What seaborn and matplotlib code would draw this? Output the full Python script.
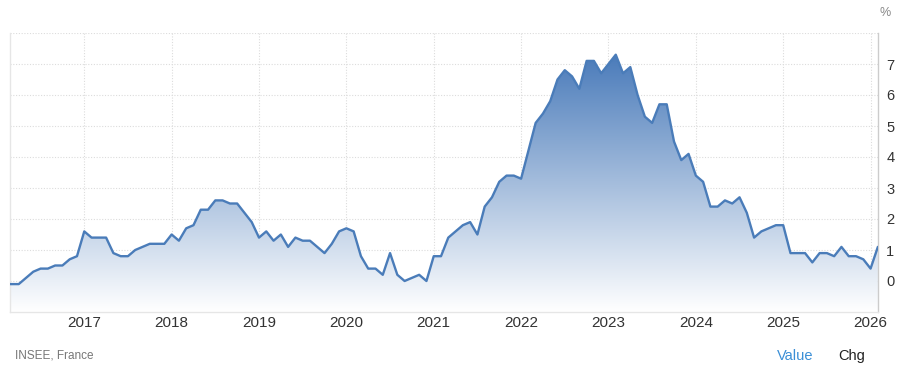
import numpy as np
import pandas as pd
import matplotlib
matplotlib.use("Agg")
import matplotlib.pyplot as plt
import seaborn as sns

# ---- data (France HICP, YoY %, monthly from Feb 2016) ----
start_month = "2016-02"
values_2016 = [-0.1, -0.1, -0.1, 0.1, 0.3, 0.4, 0.4, 0.5, 0.5, 0.7, 0.8]
values_2017 = [1.6, 1.4, 1.4, 1.4, 0.9, 0.8, 0.8, 1.0, 1.1, 1.2, 1.2, 1.2]
values_2018 = [1.5, 1.3, 1.7, 1.8, 2.3, 2.3, 2.6, 2.6, 2.5, 2.5, 2.2, 1.9]
values_2019 = [1.4, 1.6, 1.3, 1.5, 1.1, 1.4, 1.3, 1.3, 1.1, 0.9, 1.2, 1.6]
values_2020 = [1.7, 1.6, 0.8, 0.4, 0.4, 0.2, 0.9, 0.2, 0.0, 0.1, 0.2, 0.0]
values_2021 = [0.8, 0.8, 1.4, 1.6, 1.8, 1.9, 1.5, 2.4, 2.7, 3.2, 3.4, 3.4]
values_2022 = [3.3, 4.2, 5.1, 5.4, 5.8, 6.5, 6.8, 6.6, 6.2, 7.1, 7.1, 6.7]
values_2023 = [7.0, 7.3, 6.7, 6.9, 6.0, 5.3, 5.1, 5.7, 5.7, 4.5, 3.9, 4.1]
values_2024 = [3.4, 3.2, 2.4, 2.4, 2.6, 2.5, 2.7, 2.2, 1.4, 1.6, 1.7, 1.8]
values_2025 = [1.8, 0.9, 0.9, 0.9, 0.6, 0.9, 0.9, 0.8, 1.1, 0.8, 0.8, 0.7]
values_2026 = [0.4, 1.1]

year_ticks = [2017, 2018, 2019, 2020, 2021, 2022, 2023, 2024, 2025, 2026]
y_ticks = [0, 1, 2, 3, 4, 5, 6, 7]
source_text = "INSEE, France"

values = (values_2016 + values_2017 + values_2018 + values_2019 + values_2020 +
          values_2021 + values_2022 + values_2023 + values_2024 + values_2025 + values_2026)
dates = pd.date_range(start_month, periods=len(values), freq="MS")
df = pd.DataFrame({"x": dates.year + (dates.month - 1) / 12.0, "value": values})

# ---- style ----
sns.set_theme(style="white")
plt.rcParams["font.family"] = ["Liberation Sans", "DejaVu Sans"]

fig = plt.figure(figsize=(9.0, 3.72), dpi=100)
ax = fig.add_axes([10 / 900, 1 - 312 / 372, 868 / 900, 279 / 372])

line_color = "#4a7cb9"
top_rgb = np.array([74, 123, 186]) / 255.0

xmin, xmax = 2016.15, 2026.085
ymin, ymax = -1.0, 8.0

# gradient fill clipped to the area under the line
poly = ax.fill_between(df["x"], df["value"], ymin, color="none", lw=0)
ytop = max(values)
n = 256
grad = np.zeros((n, 1, 4))
frac = np.linspace(0, 1, n)[:, None]  # 0 top -> 1 bottom
grad[:, 0, :3] = top_rgb * (1 - frac) + np.array([1, 1, 1]) * frac
grad[:, 0, 3] = 1.0
im = ax.imshow(grad, extent=[xmin, xmax, ymin, ytop], aspect="auto",
               origin="upper", zorder=1)
path = poly.get_paths()[0]
im.set_clip_path(path, transform=ax.transData)

sns.lineplot(data=df, x="x", y="value", ax=ax, color=line_color, lw=1.7,
             zorder=3, solid_joinstyle="round", solid_capstyle="round")

ax.set_xlim(xmin, xmax)
ax.set_ylim(ymin, ymax)

# grid
for yv in range(0, 9):
    ax.axhline(yv, color="#dcdcdc", lw=0.8, ls=(0, (1, 1.5)), zorder=0)
for xv in year_ticks:
    ax.axvline(xv, color="#dcdcdc", lw=0.8, ls=(0, (1, 1.5)), zorder=0)

ax.set_xticks(year_ticks)
ax.set_xticklabels([str(y) for y in year_ticks])
ax.set_yticks(y_ticks)
ax.set_yticklabels([str(v) for v in y_ticks])
ax.yaxis.tick_right()
ax.tick_params(axis="y", length=0, pad=6, labelsize=10.5, labelcolor="#333333")
ax.tick_params(axis="x", length=0, pad=3, labelsize=11, labelcolor="#333333")
ax.set_xlabel("")
ax.set_ylabel("")

ax.spines["top"].set_visible(False)
ax.spines["left"].set_color("#e6e6e6")
ax.spines["bottom"].set_color("#e6e6e6")
ax.spines["right"].set_color("#cccccc")
for s in ["left", "bottom", "right"]:
    ax.spines[s].set_linewidth(1.0)

fig.text(885 / 900, 1 - 13 / 372, "%", ha="center", va="center",
         fontsize=9, color="#888888")
fig.text(15 / 900, 1 - 356 / 372, source_text, ha="left", va="center",
         fontsize=8.5, color="#777777")
fig.text(777 / 900, 1 - 356 / 372, "Value", ha="left", va="center",
         fontsize=10.5, color="#3b8fd6")
fig.text(838 / 900, 1 - 356 / 372, "Chg", ha="left", va="center",
         fontsize=10.5, color="#222222")

fig.savefig("out.png", dpi=100)
